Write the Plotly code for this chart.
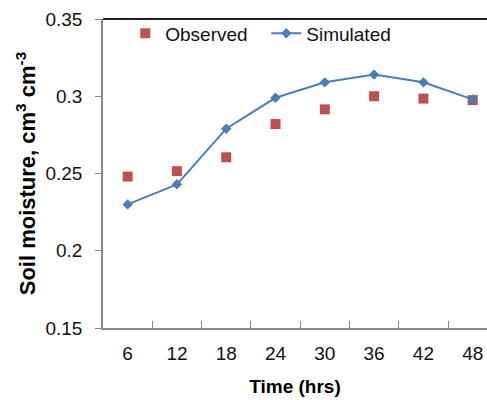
import plotly.graph_objects as go

time_hrs = ["6", "12", "18", "24", "30", "36", "42", "48"]
observed = [0.248, 0.2515, 0.2605, 0.282, 0.2915, 0.300, 0.2985, 0.2975]
simulated = [0.230, 0.243, 0.279, 0.299, 0.309, 0.314, 0.309, 0.298]

FONT = "Liberation Sans, Arial, sans-serif"

fig = go.Figure()
fig.add_trace(go.Scatter(
    x=time_hrs, y=observed, mode="markers", name="Observed",
    marker=dict(symbol="square", size=10, color="#C0504D"),
))
fig.add_trace(go.Scatter(
    x=time_hrs, y=simulated, mode="lines+markers", name="Simulated",
    line=dict(color="#4A7EBB", width=2),
    marker=dict(symbol="diamond", size=8, color="#4A7EBB"),
))

fig.update_layout(
    width=487, height=400,
    margin=dict(l=103, r=0, t=19, b=72),
    plot_bgcolor="white", paper_bgcolor="white",
    font=dict(family=FONT, size=19, color="#111111"),
    showlegend=True,
    legend=dict(orientation="h", x=0.058, y=1.015, xanchor="left", yanchor="top",
                bgcolor="rgba(0,0,0,0)", font=dict(size=19, color="#111111"),
                itemwidth=30, tracegroupgap=0,
                entrywidth=96, entrywidthmode="pixels"),
    xaxis=dict(
        type="category", range=[-0.5, 7.29],
        tickson="boundaries", ticks="inside", ticklen=7, tickcolor="#888888",
        showline=True, linecolor="#888888", linewidth=1.5,
        showgrid=False, zeroline=False,
        tickfont=dict(size=19, color="#111111"),
        ticklabelstandoff=7,
        title=dict(text="<b>Time (hrs)</b>", font=dict(size=19, color="#000000"), standoff=17),
    ),
    yaxis=dict(
        range=[0.15, 0.35], dtick=0.05, tick0=0.15,
        ticks="outside", ticklen=6, tickcolor="#888888",
        showline=True, linecolor="#888888", linewidth=1.5,
        showgrid=False, zeroline=False,
        tickfont=dict(size=19, color="#111111"),
        ticklabelstandoff=9,
        title=dict(text="<b>Soil moisture, cm<sup>3</sup> cm<sup>-3</sup></b>",
                   font=dict(size=22, color="#000000"), standoff=4),
    ),
    shapes=[dict(type="line", xref="paper", yref="paper", x0=0, x1=1, y0=1, y1=1,
                 line=dict(color="#222222", width=2))],
)

fig.write_html("out.html")
